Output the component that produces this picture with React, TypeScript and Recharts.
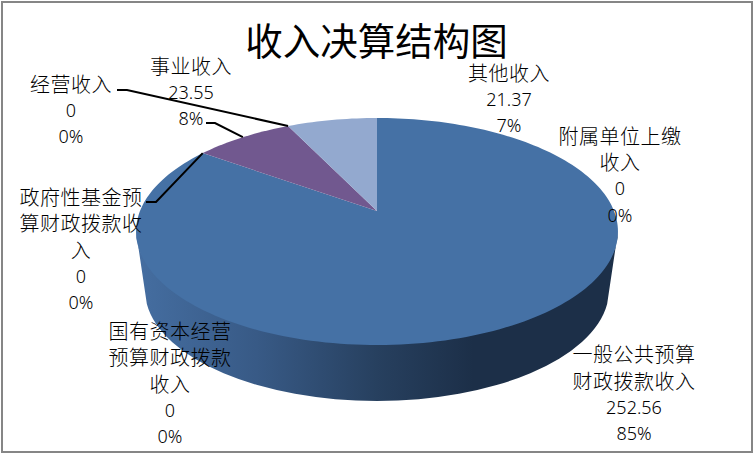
import React from 'react';
import { PieChart, Pie } from 'recharts';

const categories = [
  '一般公共预算财政拨款收入',
  '国有资本经营预算财政拨款收入',
  '政府性基金预算财政拨款收入',
  '事业收入',
  '经营收入',
  '其他收入',
  '附属单位上缴收入',
];
const values = [252.56, 0, 0, 23.55, 0, 21.37, 0];
const colors = ['#4571a5', '#aa4643', '#89a54e', '#71588f', '#4198af', '#93a9cf', '#db843d'];

const chartData = categories.map((name, i) => ({ name, value: values[i], fill: colors[i] }));

const WIDTH = 754;
const HEIGHT = 454;
const CJK = '"Noto Sans CJK SC", sans-serif';
const DIGITS = '"Noto Sans", sans-serif';

// 透视参数：远处小、近处大
const PERSPECTIVE = 0.1806;
const TILT = 0.4633;
const WRAP = 6;
const LINE_HEIGHT = 26.5;

// label centre x / first line y, and optional leader elbow
const labelLayout = [
  { x: 634, y: 353.5 },
  { x: 170, y: 330 },
  { x: 81, y: 196, leader: [[146, 202], [156, 202]] },
  { x: 191, y: 65, leader: [[206, 123], [215, 123]] },
  { x: 71, y: 83, leader: [[117, 90], [127, 90]] },
  { x: 509, y: 72 },
  { x: 620, y: 135 },
];

const project = (cx: number, cy: number, r: number, angle: number) => {
  const t = ((90 - angle) * Math.PI) / 180;
  const u = Math.sin(t);
  const v = Math.cos(t);
  const w = 1 + PERSPECTIVE * v;
  return [cx + (r * u) / w, cy - (r * TILT * v) / w];
};

const Slice = (props: any) => {
  const { cx, cy, outerRadius, startAngle, endAngle, fill, index } = props;
  if (Math.abs(endAngle - startAngle) < 0.01) return null;

  const steps = Math.ceil(Math.abs(endAngle - startAngle) / 1.5);
  const pts: number[][] = [];
  for (let i = 0; i <= steps; i++) {
    pts.push(project(cx, cy, outerRadius, startAngle + ((endAngle - startAngle) * i) / steps));
  }
  const top = `M${cx},${cy}L` + pts.map((p) => p.join(',')).join('L') + 'Z';

  // 只有第一块露出侧壁
  let wall = null;
  if (index === 0) {
    const rx = outerRadius / Math.sqrt(1 - PERSPECTIVE * PERSPECTIVE);
    const topY = cy + 20.5;
    const ry = 105; // sits under the top face so no seam shows
    const lowRx = 232;
    const lowRy = 111;
    const lowY = cy + 79;
    const dy = 14;
    const dx = lowRx * Math.sqrt(1 - (dy * dy) / (lowRy * lowRy));
    const d =
      `M${cx - rx},${topY}` +
      `A${rx},${ry} 0 0 0 ${cx + rx},${topY}` +
      `L${cx + dx},${lowY + dy}` +
      `A${lowRx},${lowRy} 0 0 1 ${cx - dx},${lowY + dy}Z`;
    wall = (
      <>
        <defs>
          <linearGradient id="wallShade" x1="0" y1="0" x2="1" y2="0">
            <stop offset="0" stopColor="#456ea1" />
            <stop offset="0.25" stopColor="#385a86" />
            <stop offset="0.5" stopColor="#27405f" />
            <stop offset="0.7" stopColor="#1c2f48" />
            <stop offset="1" stopColor="#1c2f48" />
          </linearGradient>
        </defs>
        <path d={d} fill="url(#wallShade)" />
      </>
    );
  }

  return (
    <g>
      {wall}
      <path d={top} fill={fill} />
    </g>
  );
};

const renderLabel = (props: any) => {
  const { cx, cy, outerRadius, midAngle, index, value, percent, name } = props;
  const layout = labelLayout[index];
  const lines: string[] = [];
  for (let i = 0; i < name.length; i += WRAP) lines.push(name.slice(i, i + WRAP));
  const nameCount = lines.length;
  lines.push(String(value), `${Math.round(percent * 100)}%`);

  let leader = null;
  if (layout.leader) {
    const end = project(cx, cy, outerRadius, midAngle);
    const points = [...layout.leader, end].map((p) => p.join(',')).join(' ');
    leader = <polyline points={points} fill="none" stroke="#000" strokeWidth={2} />;
  }

  return (
    <g key={name}>
      {leader}
      {lines.map((line, i) => (
        <text
          key={i}
          x={layout.x}
          y={layout.y + i * LINE_HEIGHT}
          textAnchor="middle"
          dominantBaseline="central"
          fill="#000"
          fontFamily={i < nameCount ? CJK : DIGITS}
          fontSize={i < nameCount ? 20 : 18}
          letterSpacing={i < nameCount ? 0.5 : 0}
          fontWeight={300}
        >
          {line}
        </text>
      ))}
    </g>
  );
};

export default function App() {
  return (
    <div style={{ position: 'absolute', left: 0, top: 0, width: WIDTH, height: HEIGHT, background: '#fff' }}>
      <div
        style={{
          position: 'absolute',
          left: 1,
          top: 1,
          width: WIDTH - 6,
          height: HEIGHT - 6,
          border: '2px solid #868686',
        }}
      />
      <div style={{ position: 'absolute', left: 0, top: 0 }}>
        <PieChart width={WIDTH} height={HEIGHT} margin={{ top: 0, right: 0, bottom: 0, left: 0 }}>
          <text x={376.5} y={38} textAnchor="middle" dominantBaseline="central" fontFamily={CJK} fontSize={37.5} fill="#000">
            收入决算结构图
          </text>
          <Pie
            data={chartData}
            dataKey="value"
            nameKey="name"
            cx={377}
            cy={211}
            outerRadius={237}
            startAngle={90}
            endAngle={-270}
            stroke="none"
            shape={Slice}
            label={renderLabel}
            labelLine={false}
            isAnimationActive={false}
          />
        </PieChart>
      </div>
    </div>
  );
}
